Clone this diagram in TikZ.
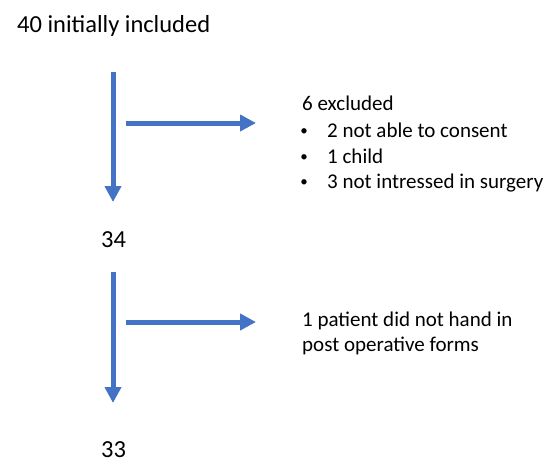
\documentclass[tikz,border=0pt]{standalone}
\usepackage{fontspec}
\setmainfont{Carlito}
\usetikzlibrary{arrows.meta}
\definecolor{flowblue}{HTML}{4472C4}
\begin{document}
\begin{tikzpicture}[x=1pt,y=-1pt,
  big/.style={anchor=base west,inner sep=0pt,font=\fontsize{24.5}{29}\selectfont},
  small/.style={anchor=base west,inner sep=0pt,font=\fontsize{21}{25}\selectfont},
  dot/.style={anchor=base,inner sep=0pt,font=\fontsize{15}{18}\selectfont},
  flow/.style={draw=flowblue,line width=5pt,-{Triangle[length=16pt,width=16pt]}}]
\useasboundingbox (0,0) rectangle (554,461);
% main counts
\node[big] (n40) at (17,32) {40 initially included};
\node[big] (n34) at (101,247) {34};
\node[big] (n33) at (101,457) {33};
% exclusion box 1
\node[small] (ex) at (302,110) {6 excluded};
\node[dot] (b1) at (304,135) {•};
\node[small] (t1) at (327,137) {2 not able to consent};
\node[dot] (b2) at (304,161) {•};
\node[small] (t2) at (327,163) {1 child};
\node[dot] (b3) at (304,186) {•};
\node[small] (t3) at (327,188) {3 not intressed in surgery};
% exclusion 2
\node[small] (p1) at (302,326) {1 patient did not hand in};
\node[small] (p2) at (302,351) {post operative forms};
% arrow coordinates
\coordinate (v1s) at (113,72);
\coordinate (v1e) at (113,202);
\coordinate (h1s) at (126,123);
\coordinate (h1e) at (256,123);
\coordinate (v2s) at (113,272);
\coordinate (v2e) at (113,403);
\coordinate (h2s) at (126,322);
\coordinate (h2e) at (256,322);
\draw[flow] (v1s) -- (v1e);
\draw[flow] (h1s) -- (h1e);
\draw[flow] (v2s) -- (v2e);
\draw[flow] (h2s) -- (h2e);
\end{tikzpicture}
\end{document}
